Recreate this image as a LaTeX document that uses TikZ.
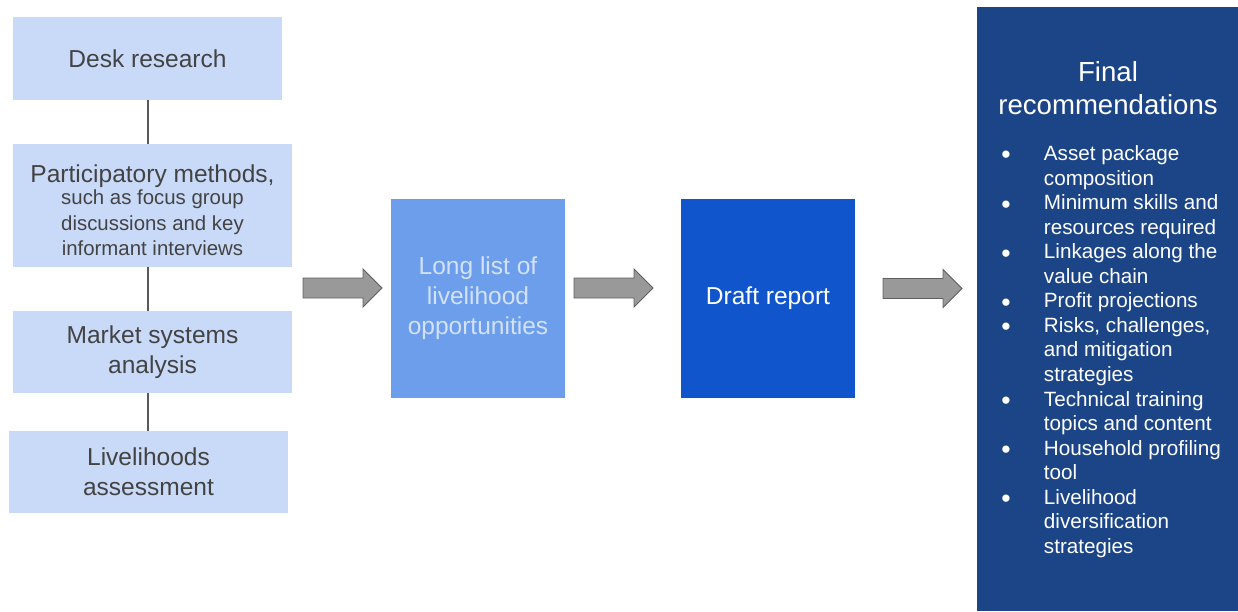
\documentclass[tikz,border=0pt]{standalone}
\usepackage{fontspec}
\setmainfont{Liberation Sans}
\usetikzlibrary{calc}
\definecolor{lightbox}{HTML}{C9DAF8}
\definecolor{txtgray}{HTML}{434343}
\definecolor{midbox}{HTML}{6D9EEB}
\definecolor{midtxt}{HTML}{D3E2FA}
\definecolor{darkbox}{HTML}{1155CC}
\definecolor{finalbox}{HTML}{1C4587}
\definecolor{arrfill}{HTML}{999999}
\definecolor{arrdraw}{HTML}{5F5F5F}
\definecolor{linkgray}{HTML}{595959}
\newcommand{\mainsz}{\fontsize{18.4}{22.5}\selectfont}
\newcommand{\smallsz}{\fontsize{15.3}{18.75}\selectfont}
\newcommand{\titlesz}{\fontsize{20.7}{24.75}\selectfont}
\newcommand{\listsz}{\fontsize{15.5}{18.42}\selectfont}
\newcommand{\bul}{\raisebox{-2.6pt}[0pt][0pt]{\fontsize{20}{18}\selectfont •}}
\newcommand{\blockarrow}[3]{% x1, x2, y
  \draw[blockarr] (#1,#3-10) -- (#2-19,#3-10) -- (#2-19,#3-19) -- (#2,#3)
    -- (#2-19,#3+19) -- (#2-19,#3+10) -- (#1,#3+10) -- cycle;}
\begin{document}
\begin{tikzpicture}[x=0.75pt,y=-0.75pt,
  stepbox/.style={rectangle, fill=lightbox, inner sep=0pt, text=txtgray, align=center, font=\mainsz},
  midstyle/.style={rectangle, fill=midbox, inner sep=0pt, text=midtxt, align=center, font=\mainsz},
  draftstyle/.style={rectangle, fill=darkbox, inner sep=0pt, text=white, align=center, font=\mainsz},
  finalstyle/.style={rectangle, fill=finalbox, inner sep=0pt},
  link/.style={draw=linkgray, line width=1.6pt},
  blockarr/.style={fill=arrfill, draw=arrdraw, line width=0.6pt, line join=miter}]
\useasboundingbox (0,0) rectangle (1238,611);

\node[stepbox, minimum width=201.75pt, minimum height=62.25pt] (desk) at (147.5,58.5) {Desk research};
\node[stepbox, minimum width=209.25pt, minimum height=92.25pt] (part) at (152.5,205.5)
  {\rule{0pt}{20pt}Participatory methods,\\[-5.5pt]{\smallsz such as focus group}\\[-3.5pt]{\smallsz discussions and key}\\[-3.5pt]{\smallsz informant interviews}};
\node[stepbox, minimum width=209.25pt, minimum height=61.5pt] (market) at (152.5,352) {Market systems\\analysis};
\node[stepbox, minimum width=209.25pt, minimum height=61.5pt] (liveli) at (148.5,472) {Livelihoods\\assessment};

\node[midstyle, minimum width=130.5pt, minimum height=149.25pt] (long) at (478,298.5) {Long list of\\livelihood\\opportunities};
\node[draftstyle, minimum width=130.5pt, minimum height=149.25pt] (draft) at (768,298.5) {Draft report};
\node[finalstyle, minimum width=195.75pt, minimum height=453pt] (final) at (1107.5,309) {};

\node[text=white, align=center, font=\titlesz, inner sep=0pt] (ftitle) at (1108,88) {Final\\recommendations};
\node[text=white, font=\listsz, inner sep=0pt, anchor=north west] (flist) at (1001,143) {%
\begin{tabular}{@{}p{32pt}@{}l@{}}
\bul & Asset package\\
  & composition\\
\bul & Minimum skills and\\
  & resources required\\
\bul & Linkages along the\\
  & value chain\\
\bul & Profit projections\\
\bul & Risks, challenges,\\
  & and mitigation\\
  & strategies\\
\bul & Technical training\\
  & topics and content\\
\bul & Household profiling\\
  & tool\\
\bul & Livelihood\\
  & diversification\\
  & strategies
\end{tabular}};

\coordinate (lx) at (148,0);
\draw[link] (lx |- desk.south) -- (lx |- part.north);
\draw[link] (lx |- part.south) -- (lx |- market.north);
\draw[link] (lx |- market.south) -- (lx |- liveli.north);

\blockarrow{303}{382}{288}
\blockarrow{574}{653}{288}
\blockarrow{883}{962}{288.5}
\end{tikzpicture}
\end{document}
